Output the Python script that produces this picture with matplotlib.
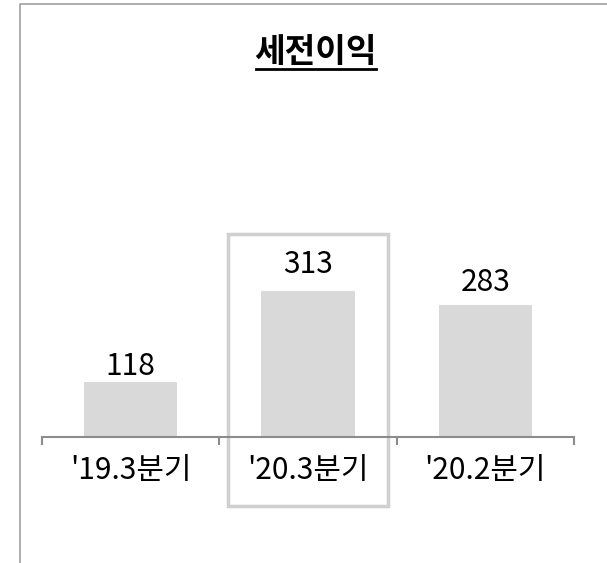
import matplotlib
matplotlib.use('Agg')
import matplotlib.pyplot as plt
from matplotlib.patches import Rectangle
from matplotlib.lines import Line2D
from matplotlib.transforms import blended_transform_factory

plt.rcParams['font.family'] = ['Noto Sans CJK KR', 'DejaVu Sans']

# 데이터
title = '세전이익'
categories = ["'19.3분기", "'20.3분기", "'20.2분기"]
values = [118, 313, 283]
highlight = 1

fig = plt.figure(figsize=(6.07, 5.63), dpi=100)
ax = fig.add_axes([42 / 607, 126 / 563, 532 / 607, 337 / 563])

x = list(range(len(categories)))
ax.bar(x, values, width=0.525, color='#d9d9d9')
ax.set_xlim(-0.5, len(categories) - 0.5)
ax.set_ylim(0, 721)

# 값 라벨 (막대 위 간격, pt)
gaps = [5, 12.5, 10]
for xi, v, g in zip(x, values, gaps):
    ax.annotate(str(v), (xi, v), xytext=(0, g), textcoords='offset points',
                ha='center', va='baseline', fontsize=21.5, fontweight=500,
                color='black')

# 축
for s in ['top', 'right', 'left']:
    ax.spines[s].set_visible(False)
ax.spines['bottom'].set_color('#8c8c8c')
ax.spines['bottom'].set_linewidth(1.5)
ax.set_yticks([])
ax.set_xticks(x, categories, fontsize=21.5, fontweight=500)
ax.tick_params(axis='x', which='major', length=0, pad=13)
ax.set_xticks([i - 0.5 for i in range(len(categories) + 1)], minor=True)
ax.tick_params(axis='x', which='minor', length=6, width=1.5, color='#8c8c8c',
               direction='out')

# 강조 박스
tr = blended_transform_factory(ax.transData, ax.transAxes)
ax.add_patch(Rectangle((highlight - 0.45, -0.205), 0.9, 0.807, transform=tr,
                       fill=False, edgecolor='#d0d0d0', linewidth=2.5,
                       clip_on=False))

# 제목 (밑줄)
t = fig.text(0.52, 0.907, title, ha='center', va='center',
             fontsize=24, fontweight='bold')
fig.canvas.draw()
bb = t.get_window_extent().transformed(fig.transFigure.inverted())
fig.add_artist(Line2D([bb.x0 + 0.002, bb.x1 - 0.002], [1 - 69 / 563] * 2,
                      color='black', linewidth=2, transform=fig.transFigure))

# 테두리
fig.add_artist(Line2D([20 / 607, 20 / 607, 1], [0, 1 - 4 / 563, 1 - 4 / 563],
                      color='#a0a0a0', linewidth=1.2, transform=fig.transFigure))

fig.savefig('out.png', dpi=100)
